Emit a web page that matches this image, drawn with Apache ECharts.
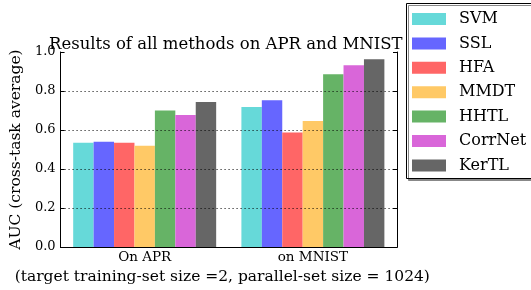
<!DOCTYPE html>
<html>
<head>
    <meta charset="UTF-8"/>
    <script type="text/javascript" src="https://cdn.jsdelivr.net/npm/echarts@6/dist/echarts.min.js"></script>
    <style>
        html, body { margin: 0; padding: 0; background: #fff; }
        #main { width: 531px; height: 290px; }
    </style>
</head>
<body>
<div id="main"></div>
<script type="text/javascript">
    // categories and methods
    var datasets = ['On APR', 'on MNIST'];
    var methods = ['SVM', 'SSL', 'HFA', 'MMDT', 'HHTL', 'CorrNet', 'KerTL'];
    var colors = ['#66d9d9', '#6666ff', '#ff6666', '#ffc966', '#66b366', '#d966d9', '#666666'];
    var yTicks = [0.0, 0.2, 0.4, 0.6, 0.8, 1.0];
    var gridVals = [0.2, 0.4, 0.6, 0.8];

    // AUC per method, [APR, MNIST]
    var svm = [0.535, 0.718];
    var ssl = [0.540, 0.753];
    var hfa = [0.535, 0.587];
    var mmdt = [0.520, 0.646];
    var hhtl = [0.700, 0.886];
    var corrnet = [0.677, 0.932];
    var kertl = [0.744, 0.963];
    var values = [svm, ssl, hfa, mmdt, hhtl, corrnet, kertl];

    var font = 'DejaVu Serif';
    var myChart = echarts.init(document.getElementById('main'));

    var series = [];
    for (var i = 0; i < methods.length; i++) {
        series.push({
            name: methods[i],
            type: 'bar',
            data: values[i],
            barGap: '0%',
            barCategoryGap: '15%',
            itemStyle: { color: colors[i] }
        });
    }
    // dotted grid drawn on top of the bars, like the original
    series.push({
        name: 'grid',
        type: 'line',
        data: [],
        z: 10,
        markLine: {
            silent: true,
            symbol: 'none',
            label: { show: false },
            lineStyle: { color: '#000', type: [1, 3], width: 1 },
            data: gridVals.map(function (v) { return { yAxis: v }; })
        }
    });

    var option = {
        animation: false,
        color: colors,
        title: {
            text: 'Results of all methods on APR and MNIST',
            left: 44,
            top: 31,
            textStyle: { fontFamily: font, fontSize: 16.5, fontWeight: 'normal', color: '#000' }
        },
        // legend frame runs past the right edge of the picture
        graphic: [{
            type: 'rect',
            z: 0,
            shape: { x: 406.5, y: 3.5, width: 150, height: 175 },
            style: { fill: '#fff', stroke: '#000', lineWidth: 1, shadowColor: '#888', shadowOffsetX: 2, shadowOffsetY: 2, shadowBlur: 0 }
        }],
        legend: {
            orient: 'vertical',
            left: 405,
            top: 3,
            padding: [8, 0, 8, 7],
            borderWidth: 0,
            backgroundColor: 'transparent',
            itemWidth: 34,
            itemHeight: 12,
            itemGap: 8.4,
            icon: 'rect',
            z: 5,
            textStyle: { fontFamily: font, fontSize: 16, lineHeight: 16, color: '#000', padding: [0, 0, 0, 8] },
            data: methods
        },
        grid: { left: 55, right: 134, top: 52, bottom: 42 },
        xAxis: [{
            type: 'category',
            data: datasets,
            name: '(target training-set size =2, parallel-set size = 1024)',
            nameLocation: 'middle',
            nameGap: 19,
            nameTextStyle: { fontFamily: font, fontSize: 15.5, color: '#000', padding: [0, 13, 0, 0] },
            axisLine: { lineStyle: { color: '#000' } },
            axisTick: { inside: true, length: 4, alignWithLabel: true, lineStyle: { color: '#000' } },
            axisLabel: { fontFamily: font, fontSize: 13.5, color: '#000', margin: 3 }
        }, {
            type: 'category',
            data: datasets,
            position: 'top',
            axisLine: { lineStyle: { color: '#000' } },
            axisTick: { inside: true, length: 4, alignWithLabel: true, lineStyle: { color: '#000' } },
            axisLabel: { show: false }
        }],
        yAxis: [{
            type: 'value',
            min: yTicks[0],
            max: yTicks[yTicks.length - 1],
            interval: 0.2,
            name: 'AUC (cross-task average)',
            nameLocation: 'middle',
            nameGap: 32,
            nameTextStyle: { fontFamily: font, fontSize: 15.5, color: '#000' },
            axisLine: { show: true, lineStyle: { color: '#000' } },
            axisTick: { show: true, inside: true, length: 4, lineStyle: { color: '#000' } },
            axisLabel: {
                fontFamily: font, fontSize: 13, color: '#000', margin: 5,
                formatter: function (v) { return v.toFixed(1); }
            },
            splitLine: { show: false }
        }, {
            type: 'value',
            position: 'right',
            min: yTicks[0],
            max: yTicks[yTicks.length - 1],
            interval: 0.2,
            axisLine: { show: true, lineStyle: { color: '#000' } },
            axisTick: { show: true, inside: true, length: 4, lineStyle: { color: '#000' } },
            axisLabel: { show: false },
            splitLine: { show: false }
        }],
        series: series
    };
    myChart.setOption(option);
</script>
</body>
</html>
